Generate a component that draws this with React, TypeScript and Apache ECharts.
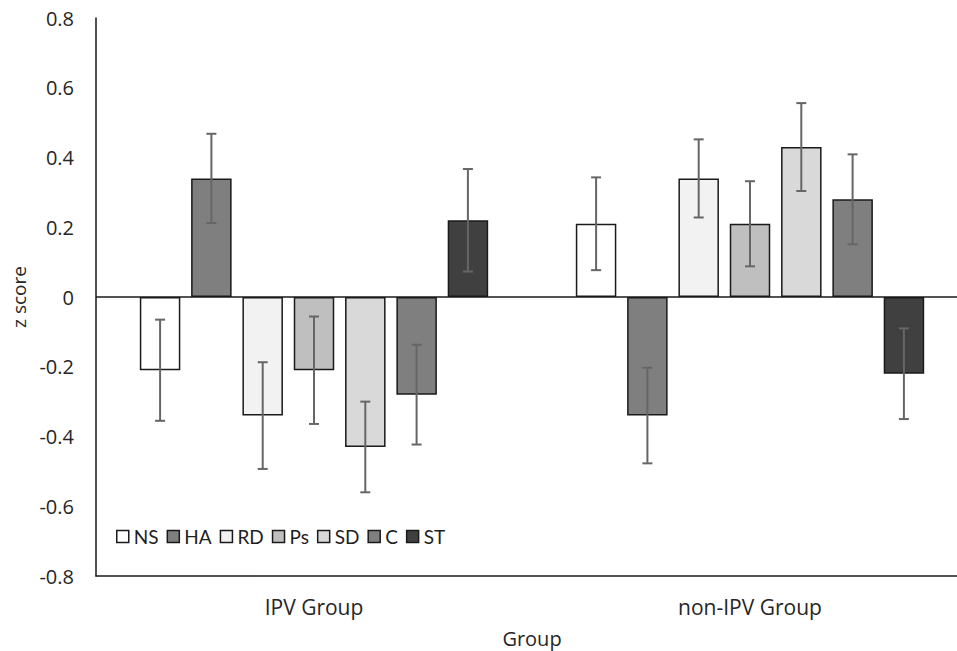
import React, { useEffect, useRef } from "react";
import * as echarts from "echarts";

const categories = ["IPV Group", "non-IPV Group"];
const seriesNames = ["NS", "HA", "RD", "Ps", "SD", "C", "ST"];
const seriesColors = ["#ffffff", "#7f7f7f", "#f2f2f2", "#bfbfbf", "#d9d9d9", "#7f7f7f", "#404040"];
// values per series: [IPV, non-IPV]
const values = [
  [-0.21, 0.21],
  [0.34, -0.34],
  [-0.34, 0.34],
  [-0.21, 0.21],
  [-0.43, 0.43],
  [-0.28, 0.28],
  [0.22, -0.22],
];
// error half-widths per series: [IPV, non-IPV]
const errors = [
  [0.145, 0.133],
  [0.128, 0.137],
  [0.153, 0.112],
  [0.154, 0.122],
  [0.13, 0.126],
  [0.143, 0.129],
  [0.147, 0.13],
];
const yTicks = { min: -0.8, max: 0.8, interval: 0.2 };

const BAR_W = 40.5;
const BAR_GAP = 10.8;
const FONT = "'Open Sans', 'Noto Sans', sans-serif";
const LEGEND_FONT = "Lato, 'Open Sans', sans-serif";

export default function App() {
  const ref = useRef<HTMLDivElement>(null);
  useEffect(() => {
    if (!ref.current) return;
    const chart = echarts.init(ref.current, undefined, { renderer: "svg" });
    const n = seriesNames.length;
    const barSeries: any[] = seriesNames.map((name, i) => ({
      name,
      type: "bar",
      data: values[i],
      barWidth: BAR_W,
      barGap: ((BAR_GAP / BAR_W) * 100).toFixed(1) + "%",
      itemStyle: { color: seriesColors[i], borderColor: "#1a1a1a", borderWidth: 1.5 },
      emphasis: { disabled: true },
      ...(i === 0
        ? {
            markLine: {
              silent: true,
              symbol: "none",
              label: { show: false },
              lineStyle: { color: "#1a1a1a", width: 1.5, type: "solid" },
              data: [{ yAxis: 0 }],
            },
          }
        : {}),
    }));
    const errData: any[] = [];
    seriesNames.forEach((_, i) => {
      categories.forEach((_, c) => {
        errData.push([c, values[i][c] - errors[i][c], values[i][c] + errors[i][c], i]);
      });
    });
    const errSeries = {
      type: "custom",
      name: "err",
      data: errData,
      z: 10,
      renderItem: (params: any, api: any) => {
        const c = api.value(0);
        const lo = api.value(1);
        const hi = api.value(2);
        const i = api.value(3);
        const off = (i - (n - 1) / 2) * (BAR_W + BAR_GAP);
        const pLo = api.coord([c, lo]);
        const pHi = api.coord([c, hi]);
        const x = pLo[0] + off;
        const cap = 5;
        const style = { stroke: "#666666", lineWidth: 2 };
        return {
          type: "group",
          children: [
            { type: "line", shape: { x1: x, y1: pLo[1], x2: x, y2: pHi[1] }, style },
            { type: "line", shape: { x1: x - cap, y1: pLo[1], x2: x + cap, y2: pLo[1] }, style },
            { type: "line", shape: { x1: x - cap, y1: pHi[1], x2: x + cap, y2: pHi[1] }, style },
          ],
        };
      },
    };
    chart.setOption({
      animation: false,
      textStyle: { fontFamily: FONT },
      grid: { left: 96, top: 18, width: 872, height: 558, containLabel: false, outerBoundsMode: "none" },
      legend: {
        data: seriesNames,
        left: 111,
        top: 522,
        icon: "rect",
        itemWidth: 12,
        itemHeight: 12,
        itemGap: 8,
        textStyle: { fontFamily: LEGEND_FONT, fontSize: 19, color: "#1f1f1f" },
        itemStyle: { borderColor: "#1a1a1a", borderWidth: 1.5 },
      },
      xAxis: {
        type: "category",
        data: categories,
        name: "Group",
        nameLocation: "middle",
        nameGap: 52,
        nameTextStyle: { fontSize: 20, color: "#262626", fontFamily: FONT },
        axisLine: { onZero: false, lineStyle: { color: "#1a1a1a", width: 1.5 } },
        axisTick: { show: false },
        axisLabel: { fontSize: 21, color: "#262626", margin: 20, fontFamily: FONT },
      },
      yAxis: {
        type: "value",
        min: yTicks.min,
        max: yTicks.max,
        interval: yTicks.interval,
        name: "z score",
        nameLocation: "middle",
        nameGap: 66,
        nameTextStyle: { fontSize: 19, color: "#262626", fontFamily: FONT },
        axisLine: { show: true, lineStyle: { color: "#1a1a1a", width: 1.5 } },
        axisTick: { show: false },
        splitLine: { show: false },
        axisLabel: {
          fontSize: 20,
          color: "#262626",
          margin: 22,
          fontFamily: FONT,
          formatter: (v: number) => (Math.abs(v) < 1e-9 ? "0" : String(Math.round(v * 10) / 10)),
        },
      },
      series: [...barSeries, errSeries],
    });
    return () => chart.dispose();
  }, []);
  return <div ref={ref} style={{ width: 957, height: 651, position: "absolute", left: 0, top: 0 }} />;
}
